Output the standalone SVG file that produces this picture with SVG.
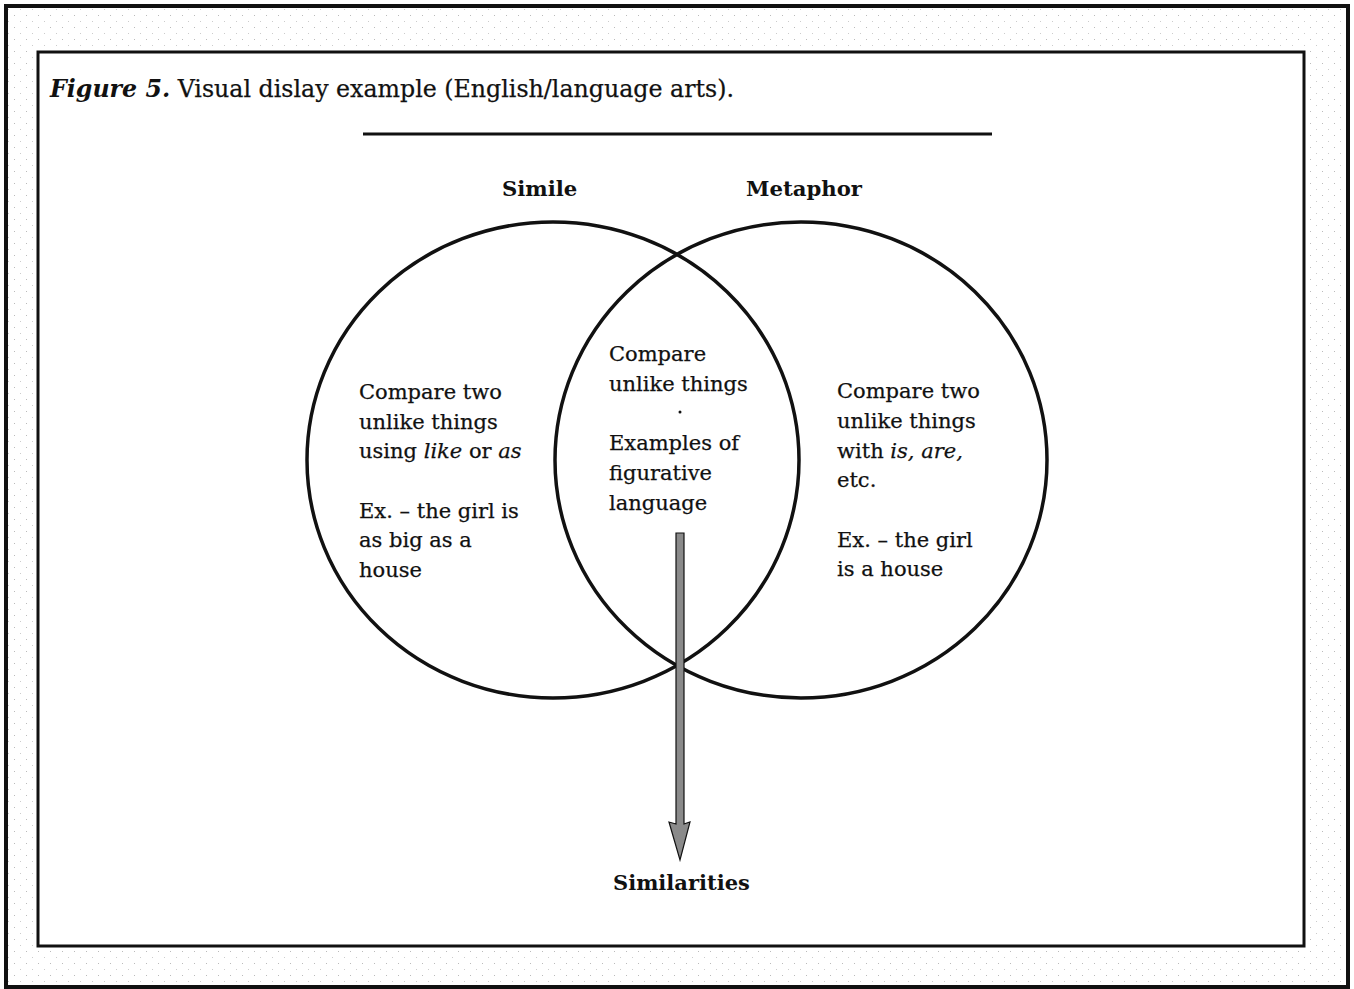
<svg xmlns="http://www.w3.org/2000/svg" width="1354" height="989" viewBox="0 0 1354 989">
<style>
.t{font-family:"DejaVu Serif","Liberation Serif",serif;font-size:21px;fill:#111;stroke:#111;stroke-width:0.25}
.b{font-weight:bold;stroke-width:0}
.c{fill:none;stroke:#111;stroke-width:3.5}
</style>
<defs>
<pattern id="dots" width="12" height="12" patternUnits="userSpaceOnUse">
<rect x="2" y="3" width="1" height="1" fill="#bbb"/>
<rect x="8" y="9" width="1" height="1" fill="#ccc"/>
</pattern>
</defs>
<rect x="0" y="0" width="1354" height="989" fill="#fff"/>
<rect x="6" y="6" width="1342" height="981" fill="url(#dots)" stroke="#111" stroke-width="4"/>
<rect x="38" y="52" width="1266" height="894" fill="#fff" stroke="#111" stroke-width="3"/>
<g id="title">
<text class="t" x="50" y="97" style="font-size:23.7px"><tspan class="b" font-style="italic">Figure 5.</tspan> Visual dislay example (English/language arts).</text>
<line x1="363" y1="134" x2="992" y2="134" stroke="#111" stroke-width="3"/>
</g>
<g id="simile">
<ellipse class="c" cx="553" cy="460" rx="246" ry="238"/>
<text class="t b" x="502" y="196" style="font-size:21.2px">Simile</text>
<text class="t" x="359" y="399">Compare two</text>
<text class="t" x="359" y="429">unlike things</text>
<text class="t" x="359" y="458">using <tspan font-style="italic">like</tspan> or <tspan font-style="italic">as</tspan></text>
<text class="t" x="359" y="518">Ex. – the girl is</text>
<text class="t" x="359" y="547">as big as a</text>
<text class="t" x="359" y="577">house</text>
</g>
<g id="metaphor">
<ellipse class="c" cx="801" cy="460" rx="246" ry="238"/>
<text class="t b" x="746" y="196" style="font-size:21.2px">Metaphor</text>
<text class="t" x="837" y="398">Compare two</text>
<text class="t" x="837" y="428">unlike things</text>
<text class="t" x="837" y="458">with <tspan font-style="italic">is, are,</tspan></text>
<text class="t" x="837" y="487">etc.</text>
<text class="t" x="837" y="547">Ex. – the girl</text>
<text class="t" x="837" y="576">is a house</text>
</g>
<g id="overlap">
<text class="t" x="609" y="361">Compare</text>
<text class="t" x="609" y="391">unlike things</text>
<circle cx="680" cy="412" r="1.5" fill="#111"/>
<text class="t" x="609" y="450">Examples of</text>
<text class="t" x="609" y="480">figurative</text>
<text class="t" x="609" y="510">language</text>
</g>
<g id="connectors">
<path d="M676,533 L684,533 L684,824 L690,822 L680,860 L669,822 L676,824 Z" fill="#8a8a8a" stroke="#111" stroke-width="1.2"/>
</g>
<g id="similarities">
<text class="t b" x="613" y="890" style="font-size:21px">Similarities</text>
</g>
</svg>
